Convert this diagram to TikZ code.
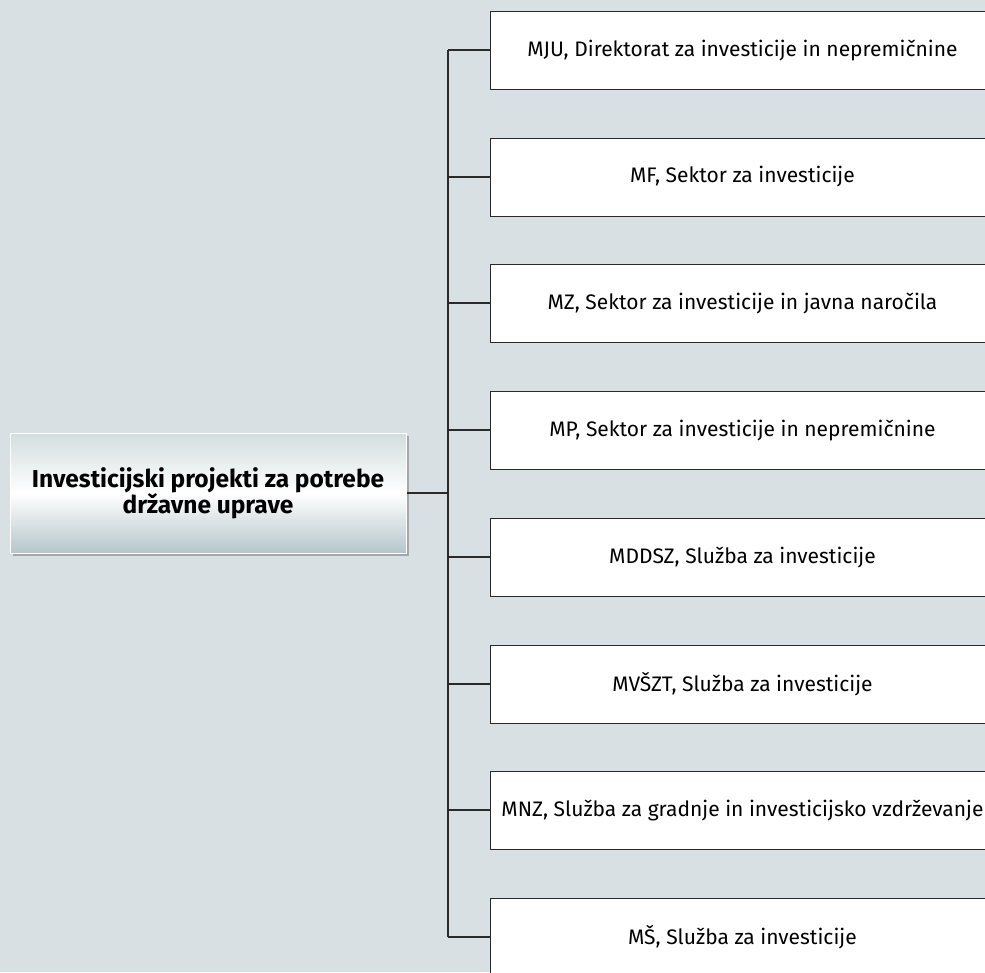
\documentclass[tikz,border=0pt]{standalone}
\usepackage{fontspec}
\setmainfont{Fira Sans}
\usetikzlibrary{shadows,positioning}
\definecolor{bg}{HTML}{D8E0E3}
\definecolor{linec}{HTML}{2A2A2A}
\definecolor{gtop}{HTML}{D3DDDF}
\definecolor{gbot}{HTML}{B5C6CB}
\tikzset{
  unit/.style={box/.style={draw=linec,line width=0.9pt,fill=white,minimum width=504pt,minimum height=78pt,inner sep=0pt,font=\fontsize{21}{24}\selectfont,anchor=west}},
  conn/.style={draw=linec,line width=1.1pt},
  rootbox/.style={draw=white,line width=1pt,minimum width=396pt,minimum height=120pt,inner sep=0pt,
    top color=gtop,bottom color=gbot,middle color=white,align=center,
    font=\fontsize{24.5}{25}\selectfont\bfseries,
    drop shadow={shadow xshift=3pt,shadow yshift=-3pt,fill=black,opacity=0.25}},
}
\begin{document}
\begin{tikzpicture}[x=1pt,y=-1pt,unit]
\path[use as bounding box,fill=bg] (0,0) rectangle (985,972);
\begin{scope}
\clip (0,0) rectangle (985,972);
\node[rootbox] (root) at (208,493) {Investicijski projekti za potrebe\\državne uprave};
\coordinate (j) at (448,493);
\foreach \i/\y/\t in {1/50/{MJU, Direktorat za investicije in nepremičnine},
  2/177/{MF, Sektor za investicije},
  3/303/{MZ, Sektor za investicije in javna naročila},
  4/430/{MP, Sektor za investicije in nepremičnine},
  5/557/{MDDSZ, Služba za investicije},
  6/684/{MVŠZT, Služba za investicije},
  7/810/{MNZ, Služba za gradnje in investicijsko vzdrževanje},
  8/937/{MŠ, Služba za investicije}}{
  \node[box] (b\i) at (490,\y) {\t};
  \coordinate (t\i) at (448,\y);
  \draw[conn] (t\i) -- (b\i.west);
}
\draw[conn] (t1) -- (t8);
\draw[conn] (root.east) -- (j);
\end{scope}
\end{tikzpicture}
\end{document}
